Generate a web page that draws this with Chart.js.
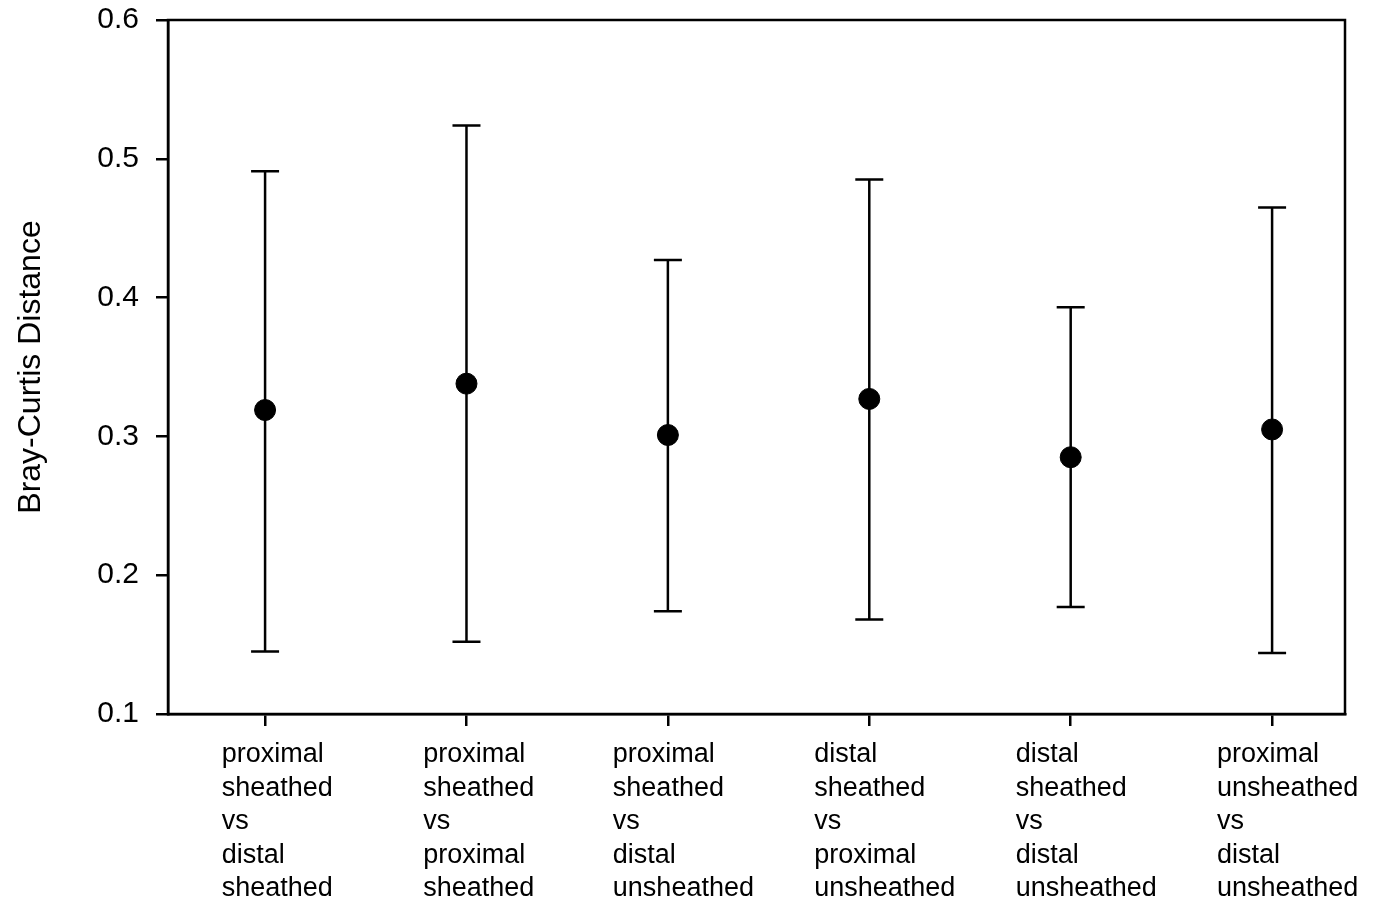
<!DOCTYPE html>
<html>
<head>
<meta charset="utf-8">
<script src="https://cdn.jsdelivr.net/npm/chart.js@4/dist/chart.umd.min.js"></script>
<style>
html,body{margin:0;padding:0;background:#fff;}
#wrap{width:1374px;height:906px;}
</style>
</head>
<body>
<div id="wrap"><canvas id="c" width="1374" height="906"></canvas></div>
<script>
const categories = [
  ["proximal","sheathed","vs","distal","sheathed"],
  ["proximal","sheathed","vs","proximal","sheathed"],
  ["proximal","sheathed","vs","distal","unsheathed"],
  ["distal","sheathed","vs","proximal","unsheathed"],
  ["distal","sheathed","vs","distal","unsheathed"],
  ["proximal","unsheathed","vs","distal","unsheathed"]
];
const positions = [1, 2, 3, 4, 5, 6];
const means = [0.319, 0.338, 0.301, 0.327, 0.285, 0.305];
const upper = [0.491, 0.524, 0.427, 0.485, 0.393, 0.465];
const lower = [0.145, 0.152, 0.174, 0.168, 0.177, 0.144];
const yTicks = [0.1, 0.2, 0.3, 0.4, 0.5, 0.6];

const FONT = "'Liberation Sans', Arial, Helvetica, sans-serif";

const errorBars = {
  id: 'errorBars',
  beforeDatasetsDraw(chart) {
    const {ctx, scales: {x, y}} = chart;
    ctx.save();
    ctx.strokeStyle = '#000';
    ctx.lineWidth = 2.5;
    const cap = 14;
    positions.forEach((p, i) => {
      const px = x.getPixelForValue(p);
      const yt = y.getPixelForValue(upper[i]);
      const yb = y.getPixelForValue(lower[i]);
      ctx.beginPath();
      ctx.moveTo(px, yt); ctx.lineTo(px, yb);
      ctx.moveTo(px - cap, yt); ctx.lineTo(px + cap, yt);
      ctx.moveTo(px - cap, yb); ctx.lineTo(px + cap, yb);
      ctx.stroke();
    });
    ctx.restore();
  },
  afterDraw(chart) {
    const {ctx, chartArea, scales: {x}} = chart;
    ctx.save();
    ctx.strokeStyle = '#000';
    ctx.lineWidth = 2.5;
    ctx.strokeRect(chartArea.left, chartArea.top, chartArea.right - chartArea.left, chartArea.bottom - chartArea.top);
    ctx.fillStyle = '#000';
    ctx.font = "27px " + FONT;
    ctx.textAlign = 'left';
    ctx.textBaseline = 'middle';
    categories.forEach((lines, i) => {
      const px = x.getPixelForValue(positions[i]);
      const w = Math.max(...lines.map(l => ctx.measureText(l).width));
      const x0 = px - 0.39 * w;
      lines.forEach((l, r) => {
        ctx.fillText(l, x0, x.top + 41 + r * 33.5);
      });
    });
    ctx.restore();
  }
};

new Chart(document.getElementById('c'), {
  type: 'scatter',
  data: {
    datasets: [{
      data: positions.map((p, i) => ({x: p, y: means[i]})),
      backgroundColor: '#000',
      borderColor: '#000',
      pointRadius: 10.5,
      pointHoverRadius: 10.5,
      showLine: false
    }]
  },
  options: {
    responsive: false,
    animation: false,
    events: [],
    layout: {padding: {top: 20, right: 29, left: 0, bottom: 0}},
    plugins: {legend: {display: false}, tooltip: {enabled: false}},
    scales: {
      x: {
        type: 'linear',
        min: 0.518,
        max: 6.362,
        afterBuildTicks: s => { s.ticks = positions.map(v => ({value: v})); },
        afterFit: s => { s.height = 192; s.paddingLeft = 0; s.paddingRight = 0; },
        ticks: {display: false},
        grid: {drawOnChartArea: false, drawTicks: true, tickLength: 12, color: '#000', lineWidth: 2.5},
        border: {display: true, color: '#000', width: 2.5}
      },
      y: {
        type: 'linear',
        min: 0.1,
        max: 0.6,
        afterBuildTicks: s => { s.ticks = yTicks.map(v => ({value: v})); },
        afterFit: s => { s.width = 168; s.paddingTop = 0; s.paddingBottom = 0; },
        ticks: {
          color: '#000',
          font: {family: FONT, size: 30},
          padding: 17,
          callback: v => v.toFixed(1)
        },
        grid: {drawOnChartArea: false, drawTicks: true, tickLength: 12, color: '#000', lineWidth: 2.5},
        border: {display: true, color: '#000', width: 2.5},
        title: {
          display: true,
          text: 'Bray-Curtis Distance',
          color: '#000',
          font: {family: FONT, size: 32},
          padding: {top: 12, bottom: 0}
        }
      }
    }
  },
  plugins: [errorBars]
});
</script>
</body>
</html>
